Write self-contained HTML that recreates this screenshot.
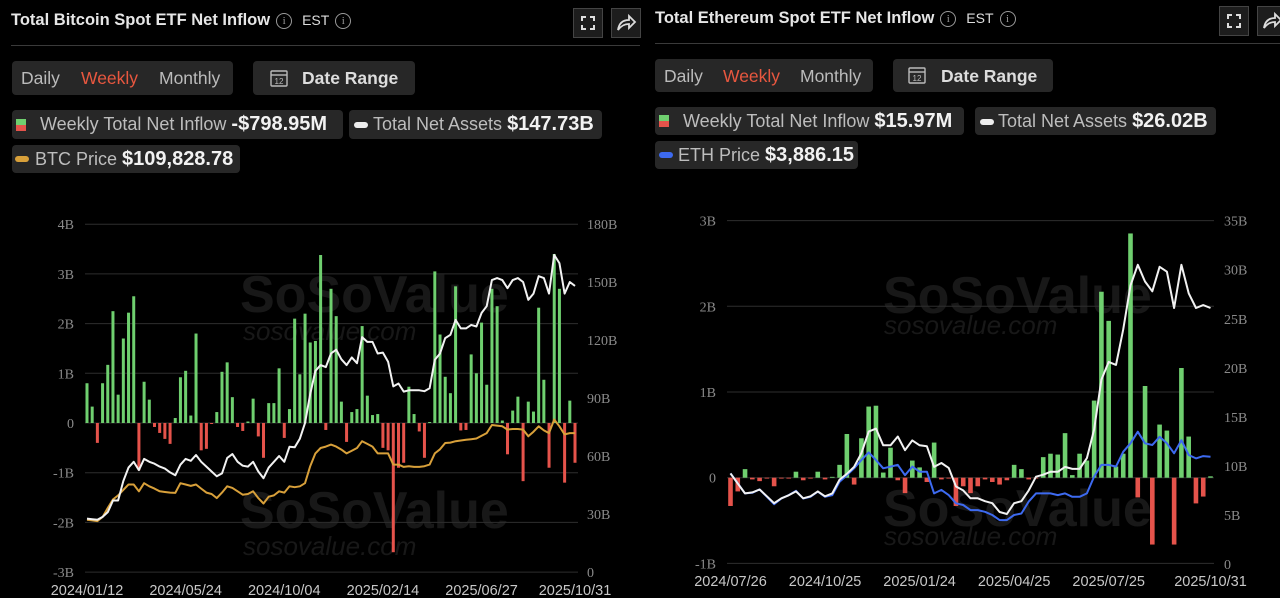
<!DOCTYPE html>
<html><head><meta charset="utf-8">
<style>
html,body{margin:0;padding:0;background:#000;width:1280px;height:598px;overflow:hidden;font-family:"Liberation Sans",sans-serif;}
.abs{position:absolute;}
.title{color:#e6e6e6;font-size:16.5px;font-weight:bold;white-space:nowrap;}
.info{display:inline-block;width:14px;height:14px;border:1.3px solid #999;border-radius:50%;color:#999;font-size:11px;line-height:14px;text-align:center;font-weight:normal;vertical-align:1px;margin-left:6px;font-family:"Liberation Serif",serif;}
.est{color:#ddd;font-size:14px;font-weight:normal;margin-left:10px;}
.divider{height:1px;background:#3a3a3a;}
.box{background:#272727;border-radius:4px;}
.pill{color:#bbb;font-size:17.5px;position:absolute;top:7px;}
.legtxt{color:#bdbdbd;font-size:18px;white-space:nowrap;position:absolute;top:3px;}
.legtxt b{color:#f2f2f2;font-size:20px;}
.iconbtn{border:1px solid #444;background:#1d1d1d;}
</style></head>
<body>
<!-- LEFT PANEL -->
<div class="abs title" style="left:11px;top:11px;">Total Bitcoin Spot ETF Net Inflow<span class="info">i</span><span class="est">EST</span><span class="info">i</span></div>
<div class="abs iconbtn" style="left:573px;top:8px;width:28px;height:28px;"><svg width="28" height="28"><path d="M8 12V8h4M16 8h4v4M20 16v4h-4M12 20H8v-4" stroke="#ddd" stroke-width="2" fill="none"/></svg></div>
<div class="abs iconbtn" style="left:611px;top:8px;width:28px;height:28px;"><svg width="28" height="28"><path d="M6 21C7 14 11 11 17 11V7l6 6-6 6v-4c-5 0-8 2-11 6z" stroke="#ddd" stroke-width="1.8" fill="none"/></svg></div>
<div class="abs divider" style="left:11px;top:45px;width:629px;"></div>
<div class="abs box" style="left:12px;top:61px;width:221px;height:34px;">
 <span class="pill" style="left:9px">Daily</span>
 <span class="pill" style="left:69px;color:#e8573f">Weekly</span>
 <span class="pill" style="left:147px">Monthly</span>
</div>
<div class="abs box" style="left:253px;top:61px;width:162px;height:34px;">
 <svg class="abs" style="left:16px;top:7px" width="20" height="20"><rect x="2" y="3" width="16" height="15" rx="1" stroke="#bbb" fill="none" stroke-width="1.4"/><line x1="2" y1="7" x2="18" y2="7" stroke="#bbb" stroke-width="1.4"/><text x="10" y="16" font-size="8" fill="#bbb" text-anchor="middle" font-family="Liberation Sans">12</text></svg>
 <span class="pill" style="left:49px;color:#ddd;font-weight:bold">Date Range</span>
</div>
<div class="abs box" style="left:12px;top:110px;width:331px;height:29px;">
 <svg class="abs" style="left:4px;top:9px" width="10" height="12"><rect width="10" height="6" fill="#6fcf6f"/><rect y="6" width="10" height="6" fill="#e5534b"/></svg>
 <span class="legtxt" style="left:28px">Weekly Total Net Inflow <b>-$798.95M</b></span>
</div>
<div class="abs box" style="left:349px;top:110px;width:253px;height:29px;">
 <svg class="abs" style="left:5px;top:12px" width="14" height="6"><rect width="14" height="6" rx="3" fill="#eee"/></svg>
 <span class="legtxt" style="left:24px">Total Net Assets <b>$147.73B</b></span>
</div>
<div class="abs box" style="left:12px;top:145px;width:228px;height:28px;">
 <svg class="abs" style="left:3px;top:11px" width="14" height="6"><rect width="14" height="6" rx="3" fill="#d8a03a"/></svg>
 <span class="legtxt" style="left:23px">BTC Price <b>$109,828.78</b></span>
</div>

<!-- RIGHT PANEL -->
<div class="abs title" style="left:655px;top:9px;">Total Ethereum Spot ETF Net Inflow<span class="info">i</span><span class="est">EST</span><span class="info">i</span></div>
<div class="abs iconbtn" style="left:1219px;top:6px;width:28px;height:28px;"><svg width="28" height="28"><path d="M8 12V8h4M16 8h4v4M20 16v4h-4M12 20H8v-4" stroke="#ddd" stroke-width="2" fill="none"/></svg></div>
<div class="abs iconbtn" style="left:1257px;top:6px;width:28px;height:28px;"><svg width="28" height="28"><path d="M6 21C7 14 11 11 17 11V7l6 6-6 6v-4c-5 0-8 2-11 6z" stroke="#ddd" stroke-width="1.8" fill="none"/></svg></div>
<div class="abs divider" style="left:655px;top:43px;width:625px;"></div>
<div class="abs box" style="left:655px;top:59px;width:218px;height:33px;">
 <span class="pill" style="left:9px">Daily</span>
 <span class="pill" style="left:68px;color:#e8573f">Weekly</span>
 <span class="pill" style="left:145px">Monthly</span>
</div>
<div class="abs box" style="left:893px;top:59px;width:160px;height:33px;">
 <svg class="abs" style="left:14px;top:6px" width="20" height="20"><rect x="2" y="3" width="16" height="15" rx="1" stroke="#bbb" fill="none" stroke-width="1.4"/><line x1="2" y1="7" x2="18" y2="7" stroke="#bbb" stroke-width="1.4"/><text x="10" y="16" font-size="8" fill="#bbb" text-anchor="middle" font-family="Liberation Sans">12</text></svg>
 <span class="pill" style="left:48px;color:#ddd;font-weight:bold">Date Range</span>
</div>
<div class="abs box" style="left:655px;top:107px;width:309px;height:28px;">
 <svg class="abs" style="left:4px;top:8px" width="10" height="12"><rect width="10" height="6" fill="#6fcf6f"/><rect y="6" width="10" height="6" fill="#e5534b"/></svg>
 <span class="legtxt" style="left:28px">Weekly Total Net Inflow <b>$15.97M</b></span>
</div>
<div class="abs box" style="left:975px;top:107px;width:241px;height:28px;">
 <svg class="abs" style="left:5px;top:12px" width="14" height="6"><rect width="14" height="6" rx="3" fill="#eee"/></svg>
 <span class="legtxt" style="left:23px">Total Net Assets <b>$26.02B</b></span>
</div>
<div class="abs box" style="left:655px;top:141px;width:203px;height:28px;">
 <svg class="abs" style="left:4px;top:11px" width="14" height="6"><rect width="14" height="6" rx="3" fill="#3d6af0"/></svg>
 <span class="legtxt" style="left:23px">ETH Price <b>$3,886.15</b></span>
</div>

<svg id="charts" class="abs" style="left:0;top:0" width="1280" height="598">
 <g font-family="Liberation Sans" fill="#181818">
  <text x="240" y="312" font-size="52" font-weight="bold">SoSoValue</text>
  <text x="243" y="340" font-size="26" font-style="italic">sosovalue.com</text>
  <text x="240" y="528" font-size="52" font-weight="bold">SoSoValue</text>
  <text x="243" y="555" font-size="26" font-style="italic">sosovalue.com</text>
 </g>
 <g font-family="Liberation Sans" fill="#181818">
  <text x="883" y="313" font-size="52" font-weight="bold">SoSoValue</text>
  <text x="884" y="334" font-size="26" font-style="italic">sosovalue.com</text>
  <text x="883" y="526" font-size="52" font-weight="bold">SoSoValue</text>
  <text x="884" y="545" font-size="26" font-style="italic">sosovalue.com</text>
 </g>
 <g id="btc"></g>
 <g id="eth"></g>
</svg>

<script>
// ---------- BTC data ----------
const btcInflow = [0.8,0.33,-0.4,0.8,1.17,2.25,0.57,1.7,2.22,2.55,-0.95,0.83,0.47,-0.08,-0.2,-0.32,-0.42,0.1,0.92,1.05,0.15,1.8,-0.55,-0.52,-0.02,0.22,1.03,1.22,0.52,-0.08,-0.16,0.03,0.49,-0.27,-0.7,0.4,0.4,1.1,-0.3,0.28,2.1,0.98,2.2,1.62,1.65,3.38,-0.14,2.7,2.15,0.43,-0.38,0.22,0.28,1.95,0.55,0.16,0.18,-0.5,-0.55,-2.6,-0.9,-0.8,0.73,0.18,-0.17,-0.7,0.02,3.05,1.78,0.93,0.6,2.75,-0.15,-0.14,1.38,1.0,2.02,0.77,2.7,2.35,0.05,-0.63,0.25,0.53,-1.17,0.43,0.23,2.32,0.87,-0.9,3.4,2.7,-1.2,0.45,-0.8];
const btcAssets = [27.6,27.3,27,28.5,31,37,37,47,54,57,52.7,58.5,57,56,54.5,53.5,51.5,50,55.5,58.5,57.5,60.5,57,54.5,52,49.5,51,59,61,57,55,54.5,57,52,48.5,54,57,60,57,64.8,64.5,69,77,92,104,107,106,113,115,110,107,111,108,121.5,119,119,113,113.5,108.8,96,97.5,93.3,94,94,94,93.5,95,109.7,113,121,122.7,130.4,126,126,127.8,127,134,137.5,151,152,151,146.8,151,152,150,140.8,144,153,152,144,164,159.8,144,150,148];
const btcPrice = [46,45.5,45,48,54.7,61,64,68,72,72,67,73,70.7,69,67,66.5,66,65.8,73,72,71,72,69,66,65,62,66,70.7,69.5,67,64.5,65,67,62,58,63,64,67,66,70.7,70,70.7,73,85.5,95,99,100,101.5,100,97.8,95,97,99,104,102,100,95,95,95,86.7,86.7,85,85.5,85,85,85.5,86.7,95,98,102.7,103,104,104.5,105,105.5,106,108,110,116,115.5,115,112.6,113,113,112.6,107.6,111,115,112,110,120,115,109,110,110];
const btcLeftTicks = [4,3,2,1,0,-1,-2,-3];
const btcLeftTickLabels = ["4B","3B","2B","1B","0","-1B","-2B","-3B"];
const btcRightTicks = [180,150,120,90,60,30,0];
const btcRightTickLabels = ["180B","150B","120B","90B","60B","30B","0"];
const btcDateIdx = [0,19,38,57,76,94];
const btcDateLabels = ["2024/01/12","2024/05/24","2024/10/04","2025/02/14","2025/06/27","2025/10/31"];

// ---------- ETH data ----------
const ethInflow = [-0.33,-0.16,0.1,-0.02,-0.04,-0.01,-0.1,-0.01,-0.01,0.07,-0.03,-0.01,0.07,-0.02,0.01,0.15,0.51,-0.08,0.46,0.83,0.84,0.06,0.35,-0.03,-0.18,0.2,0.12,-0.05,0.41,-0.02,-0.01,-0.33,-0.1,-0.18,-0.1,-0.02,-0.05,-0.08,-0.03,0.15,0.1,-0.02,-0.01,0.24,0.28,0.27,0.52,0.03,0.28,0.2,0.9,2.17,1.83,0.13,0.28,2.85,-0.23,1.07,-0.78,0.62,0.55,-0.78,1.28,0.48,-0.3,-0.22,0.016];
const ethAssets = [9.24,8.2,7.2,7.3,7.6,6.9,6.2,6.7,7.0,7.4,6.7,6.9,7.4,6.9,7.2,8.6,9.2,9.9,11.3,13.5,13.8,12.1,12.1,13,11.6,12.6,12.1,12,9.9,10.3,9.8,7.9,7.5,6.7,6.7,6.4,6.2,5.3,5.1,6.2,6.4,7.5,8.9,9.1,9.4,9.4,9.9,9.7,9.7,10.8,13.7,18.8,20.6,20.3,23.9,28.4,30.5,28.8,27.8,30.3,29.8,26.1,30.5,27.6,26.1,26.4,26.1];
const ethPrice = [3280,2930,2580,2600,2720,2460,2200,2400,2520,2670,2400,2460,2640,2460,2520,2990,3220,3460,3750,4020,3750,3460,3520,3580,3220,3520,3340,3340,2580,2700,2520,2230,2170,1990,1990,1930,1820,1640,1640,1820,1870,2290,2580,2580,2580,2520,2580,2460,2460,2580,3170,3580,3580,3520,4040,4340,4750,4340,4280,4570,4340,3990,4450,3930,3810,3890,3870];
const ethLeftTicks = [3,2,1,0,-1];
const ethLeftTickLabels = ["3B","2B","1B","0","-1B"];
const ethRightTicks = [35,30,25,20,15,10,5,0];
const ethRightTickLabels = ["35B","30B","25B","20B","15B","10B","5B","0"];
const ethDateIdx = [0,13,26,39,52,66];
const ethDateLabels = ["2024/07/26","2024/10/25","2025/01/24","2025/04/25","2025/07/25","2025/10/31"];

const NS="http://www.w3.org/2000/svg";
function mk(parent,tag,attrs){const e=document.createElementNS(NS,tag);for(const k in attrs)e.setAttribute(k,attrs[k]);parent.appendChild(e);return e;}

function drawChart(g, cfg){
  const n = cfg.inflow.length;
  const x = i => cfg.x0 + i*(cfg.x1-cfg.x0)/(n-1);
  const yL = v => cfg.zeroY - v*cfg.pxPerB;
  const yR = v => cfg.rBottom - v*(cfg.rBottom-cfg.rTop)/cfg.rMax;
  const yP = v => cfg.pBottom - v*cfg.pScale;
  cfg.leftTicks.forEach((t,k)=>{
    const ln=mk(g,'line',{x1:cfg.gx0,x2:cfg.gx1,y1:yL(t),y2:yL(t),stroke:'#2e2e2e','stroke-width':1});
    
    
    const tx=mk(g,'text',{x:cfg.lx,y:yL(t)+5,'text-anchor':'end',fill:'#8a8a8a','font-size':14,'font-family':'Liberation Serif, serif'});
    tx.textContent=cfg.leftTickLabels[k];
    
    
  });
  cfg.rightTicks.forEach((t,k)=>{
    const tx=mk(g,'text',{x:cfg.rx,y:yR(t)+5,fill:'#8a8a8a','font-size':14,'font-family':'Liberation Serif, serif'});
    tx.textContent=cfg.rightTickLabels[k];
    
    
  });
  cfg.inflow.forEach((v,i)=>{
    const y0=yL(0), y1=yL(v);
    const r=mk(g,'rect',{x:x(i)-cfg.bw/2,y:Math.min(y0,y1),width:cfg.bw,height:Math.max(0.8,Math.abs(y1-y0)),fill:v>=0?'#6fcf6f':'#e5534b'});
    
    
  });
  const pricePts=cfg.price.map((v,i)=>x(i).toFixed(1)+','+yP(v).toFixed(1)).join(' ');
  const pl=mk(g,'polyline',{points:pricePts,fill:'none',stroke:cfg.priceColor,'stroke-width':2,'stroke-linejoin':'round'});
  
  
  const assetPts=cfg.assets.map((v,i)=>x(i).toFixed(1)+','+yR(v).toFixed(1)).join(' ');
  const al=mk(g,'polyline',{points:assetPts,fill:'none',stroke:'#f2f2f2','stroke-width':2,'stroke-linejoin':'round'});
  
  
  cfg.dateIdx.forEach((d,k)=>{
    const tx=mk(g,'text',{x:x(d),y:cfg.dateY,'text-anchor':'middle',fill:'#c8c8c8','font-size':14.5,'font-family':'Liberation Sans, sans-serif'});
    tx.textContent=cfg.dateLabels[k];
    
    
  });
}

drawChart(document.getElementById('btc'),{
  inflow:btcInflow,assets:btcAssets,price:btcPrice,
  x0:87,x1:575,gx0:85,gx1:578,zeroY:423,pxPerB:49.7,
  rBottom:572,rTop:224,rMax:180,pBottom:582,pScale:176/130,
  bw:3,lx:74,rx:587,dateY:595,priceColor:'#d8a03a',
  leftTicks:btcLeftTicks,leftTickLabels:btcLeftTickLabels,
  rightTicks:btcRightTicks,rightTickLabels:btcRightTickLabels,
  dateIdx:btcDateIdx,dateLabels:btcDateLabels
});
drawChart(document.getElementById('eth'),{
  inflow:ethInflow,assets:ethAssets,price:ethPrice,
  x0:730.5,x1:1210.5,gx0:727,gx1:1214,zeroY:477.7,pxPerB:85.7,
  rBottom:564,rTop:220.7,rMax:35,pBottom:566.7,pScale:0.02843,
  bw:4.6,lx:716,rx:1224,dateY:586,priceColor:'#3d6af0',
  leftTicks:ethLeftTicks,leftTickLabels:ethLeftTickLabels,
  rightTicks:ethRightTicks,rightTickLabels:ethRightTickLabels,
  dateIdx:ethDateIdx,dateLabels:ethDateLabels
});
</script>
</body></html>
